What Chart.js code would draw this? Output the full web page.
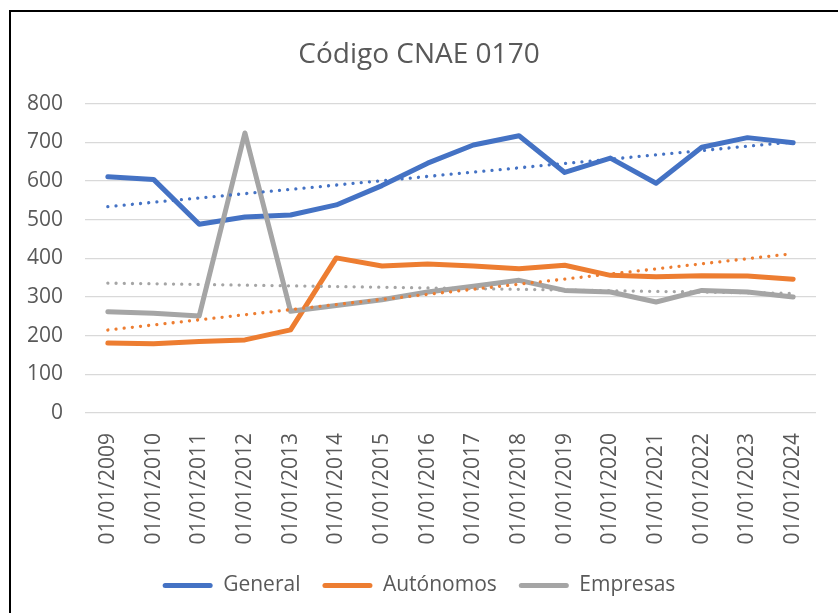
<!DOCTYPE html>
<html>
<head>
<meta charset="utf-8">
<script src="https://cdn.jsdelivr.net/npm/chart.js@4/dist/chart.umd.min.js"></script>
<style>
  html, body { margin: 0; padding: 0; background: #fff; }
  #wrap { position: absolute; left: 0; top: 0; width: 838px; height: 613px; }
  #frame { position: absolute; left: 9px; top: 10px; width: 840px; height: 620px;
           border-left: 2px solid #000; border-top: 2px solid #000; pointer-events: none; }
</style>
</head>
<body>
<div id="wrap"><canvas id="chart" width="838" height="613"></canvas></div>
<div id="frame"></div>
<script>
// Data
const years = ['01/01/2009', '01/01/2010', '01/01/2011', '01/01/2012', '01/01/2013', '01/01/2014',
    '01/01/2015', '01/01/2016', '01/01/2017', '01/01/2018', '01/01/2019', '01/01/2020',
    '01/01/2021', '01/01/2022', '01/01/2023', '01/01/2024'];
const general = [611, 604, 488, 507, 512, 538, 588, 646, 693, 717, 622, 659, 594, 687, 712, 699];
const autonomos = [181, 179, 185, 189, 215, 401, 380, 385, 380, 373, 382, 356, 352, 355, 354, 346];
const empresas = [262, 258, 251, 724, 263, 278, 293, 313, 328, 343, 317, 313, 287, 317, 313, 300];
const yTicks = [0, 100, 200, 300, 400, 500, 600, 700, 800];

const BLUE = '#4472C4';
const ORANGE = '#ED7D31';
const GRAY = '#A5A5A5';
const TEXT = '#595959';
const FONT = "'Open Sans', sans-serif";

// Linear trendline (least squares), like Excel's
function trend(values) {
    const n = values.length;
    let sx = 0, sy = 0, sxy = 0, sxx = 0;
    values.forEach((v, i) => { sx += i; sy += v; sxy += i * v; sxx += i * i; });
    const slope = (n * sxy - sx * sy) / (n * sxx - sx * sx);
    const icpt = (sy - slope * sx) / n;
    return values.map((v, i) => icpt + slope * i);
}

function seriesSet(label, data, color, order) {
    return {
        label: label, data: data, borderColor: color, backgroundColor: color,
        borderWidth: 5, pointRadius: 0, tension: 0, borderJoinStyle: 'round',
        borderCapStyle: 'round', order: order
    };
}

function trendSet(data, color) {
    return {
        label: 'trend', data: trend(data), borderColor: color, backgroundColor: color,
        borderWidth: 3.3, pointRadius: 0, tension: 0, borderDash: [0.01, 8.2],
        borderCapStyle: 'round', order: 0
    };
}

const ctx = document.getElementById('chart').getContext('2d');
new Chart(ctx, {
    type: 'line',
    data: {
        labels: years,
        datasets: [
            seriesSet('General', general, BLUE, 3),
            seriesSet('Autónomos', autonomos, ORANGE, 2),
            seriesSet('Empresas', empresas, GRAY, 1),
            trendSet(general, BLUE),
            trendSet(autonomos, ORANGE),
            trendSet(empresas, GRAY)
        ]
    },
    options: {
        responsive: false,
        animation: false,
        layout: { padding: { left: 22, right: 22, top: 0, bottom: 7 } },
        plugins: {
            tooltip: { enabled: false },
            title: {
                display: true,
                text: 'Código CNAE 0170',
                color: TEXT,
                font: { family: FONT, size: 28, weight: 'normal', lineHeight: 1.2 },
                padding: { top: 38, bottom: 32 }
            },
            legend: {
                position: 'bottom',
                labels: {
                    color: TEXT,
                    font: { family: FONT, size: 21 },
                    boxWidth: 50,
                    boxHeight: 5,
                    padding: 22,
                    useBorderRadius: true,
                    borderRadius: 2.5,
                    filter: item => item.datasetIndex < 3,
                    sort: (a, b) => a.datasetIndex - b.datasetIndex,
                    generateLabels: chart => {
                        const items = Chart.defaults.plugins.legend.labels.generateLabels(chart);
                        items.forEach(it => { it.lineWidth = 0; });
                        return items;
                    }
                }
            }
        },
        scales: {
            x: {
                offset: true,
                grid: { display: false },
                border: { display: false },
                ticks: {
                    color: TEXT, font: { family: FONT, size: 21 },
                    minRotation: 90, maxRotation: 90, padding: 12, autoSkip: false
                },
                afterFit: scale => { scale.height = 140; }
            },
            y: {
                min: 0, max: 800,
                afterBuildTicks: scale => { scale.ticks = yTicks.map(v => ({ value: v })); },
                grid: { color: '#D9D9D9', lineWidth: 1.3, drawTicks: false },
                border: { display: false },
                ticks: { color: TEXT, font: { family: FONT, size: 21 }, padding: 22 },
                afterFit: scale => { scale.width = 63; }
            }
        }
    }
});
</script>
</body>
</html>
